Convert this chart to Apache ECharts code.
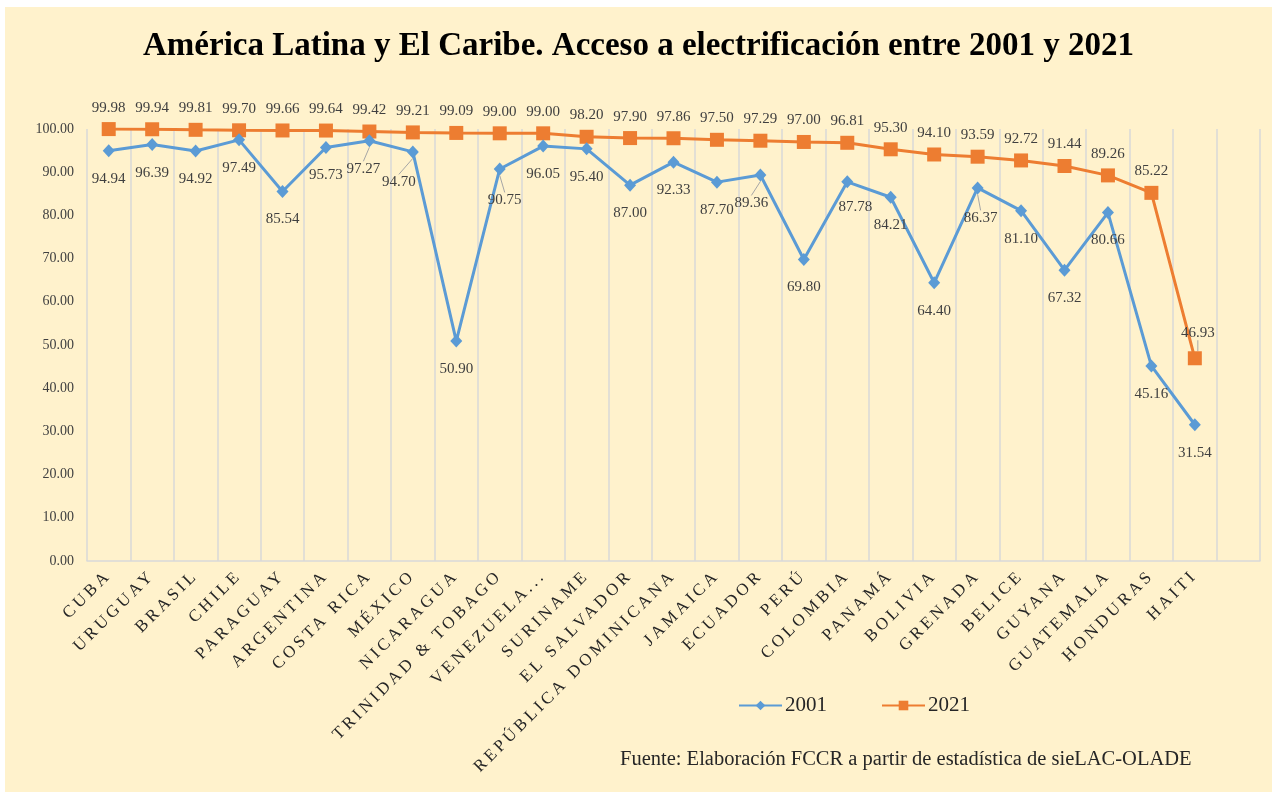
<!DOCTYPE html>
<html lang="es">
<head>
    <meta charset="UTF-8">
    <script src="https://cdn.jsdelivr.net/npm/echarts@6/dist/echarts.min.js"></script>
    <title>Acceso a electrificación</title>
    <style>
        body { margin: 0; background: #ffffff; }
        #main { position: absolute; left: 5px; top: 7px; width: 1267px; height: 785px; }
    </style>
</head>
<body>
<div id="main"></div>

<script type="text/javascript">

    // paises, en el orden del grafico
    var paises = ['CUBA', 'URUGUAY', 'BRASIL', 'CHILE', 'PARAGUAY', 'ARGENTINA', 'COSTA RICA', 'MÉXICO',
        'NICARAGUA', 'TRINIDAD & TOBAGO', 'VENEZUELA...', 'SURINAME', 'EL SALVADOR', 'REPÚBLICA DOMINICANA',
        'JAMAICA', 'ECUADOR', 'PERÚ', 'COLOMBIA', 'PANAMÁ', 'BOLIVIA', 'GRENADA', 'BELICE', 'GUYANA',
        'GUATEMALA', 'HONDURAS', 'HAITI'];

    var acceso2001 = [94.94, 96.39, 94.92, 97.49, 85.54, 95.73, 97.27, 94.70, 50.90, 90.75, 96.05, 95.40,
        87.00, 92.33, 87.70, 89.36, 69.80, 87.78, 84.21, 64.40, 86.37, 81.10, 67.32, 80.66, 45.16, 31.54];

    var acceso2021 = [99.98, 99.94, 99.81, 99.70, 99.66, 99.64, 99.42, 99.21, 99.09, 99.00, 99.00, 98.20,
        97.90, 97.86, 97.50, 97.29, 97.00, 96.81, 95.30, 94.10, 93.59, 92.72, 91.44, 89.26, 85.22, 46.93];

    // desplazamientos de etiquetas (como en el original), con linea guia
    var ajuste2001 = { 6: [-6, 0], 7: [-14, 2], 9: [5, 3], 15: [-9, 0], 17: [8, -3], 20: [3, 2] };
    var ajuste2021 = { 25: [3, -4] };
    var conGuia = [6, 7, 9, 15, 20];

    var fuente = 'Liberation Serif';
    var azul = '#5b9bd5';
    var naranja = '#ed7d31';

    // las etiquetas de paises van espaciadas en el original
    var fillTextOrig = CanvasRenderingContext2D.prototype.fillText;
    CanvasRenderingContext2D.prototype.fillText = function (t, x, y, w) {
        if (paises.indexOf(t) >= 0 && 'letterSpacing' in this) {
            var f = this.font;
            this.save();
            this.letterSpacing = '3.4px';
            this.font = f;
            fillTextOrig.apply(this, arguments);
            this.restore();
            this.letterSpacing = '0px';
            this.font = '10px sans-serif';
            this.font = f;
            return;
        }
        return fillTextOrig.apply(this, arguments);
    };

    var myChart = echarts.init(document.getElementById('main'));

    var datos2001 = acceso2001.map(function (v, i) {
        var item = { value: v };
        if (conGuia.indexOf(i) >= 0) {
            item.labelLine = { show: true };
        }
        return item;
    });

    var datos2021 = acceso2021.map(function (v, i) {
        var item = { value: v };
        if (ajuste2021[i]) {
            item.labelLine = { show: true };
        }
        return item;
    });

    function mover(tabla) {
        return function (p) {
            var d = tabla[p.dataIndex];
            return d ? { dx: d[0], dy: d[1] } : {};
        };
    }

    var option = {
        backgroundColor: '#fff2cc',
        animation: false,
        title: {
            text: 'América Latina y El Caribe. Acceso a electrificación entre 2001 y 2021',
            left: 'center',
            top: 23,
            padding: 0,
            textStyle: {
                fontFamily: fuente,
                fontWeight: 'bold',
                fontSize: 33,
                color: '#000000'
            }
        },
        legend: {
            left: 733,
            top: 688,
            padding: 0,
            itemWidth: 43,
            itemHeight: 12,
            itemGap: 54,
            textStyle: { fontFamily: fuente, fontSize: 21, color: '#262626', padding: [0, 0, 0, -2] },
            data: ['2001', '2021']
        },
        grid: {
            left: 82,
            top: 122,
            width: 1173,
            bottom: 231,
            containLabel: false
        },
        xAxis: {
            type: 'category',
            data: paises.concat(['']),
            boundaryGap: true,
            axisLine: { show: true, lineStyle: { color: '#d9d9d9', width: 1.5 } },
            axisTick: { show: false },
            splitLine: { show: true, interval: 0, lineStyle: { color: '#d9d9d9', width: 1.5 } },
            axisLabel: {
                interval: 0,
                rotate: 45,
                margin: 12,
                fontFamily: fuente,
                fontSize: 17,
                color: '#262626'
            }
        },
        yAxis: {
            type: 'value',
            min: 0,
            max: 100,
            interval: 10,
            axisLine: { show: false },
            axisTick: { show: false },
            splitLine: { show: false },
            axisLabel: {
                margin: 13,
                fontFamily: fuente,
                fontSize: 14,
                color: '#404040',
                formatter: function (v) { return v.toFixed(2); }
            }
        },
        graphic: [{
            type: 'text',
            left: 615,
            top: 742,
            style: {
                text: 'Fuente: Elaboración FCCR a partir de estadística de sieLAC-OLADE',
                font: '20.5px "Liberation Serif"',
                fill: '#262626'
            }
        }],
        series: [
            {
                name: '2001',
                type: 'line',
                data: datos2001,
                symbol: 'diamond',
                symbolSize: [12, 13],
                lineStyle: { color: azul, width: 3 },
                itemStyle: { color: azul },
                label: {
                    show: true,
                    position: 'bottom',
                    distance: 14,
                    fontFamily: fuente,
                    fontSize: 15,
                    color: '#404040',
                    formatter: function (p) { return p.value.toFixed(2); }
                },
                labelLine: { show: false, lineStyle: { color: '#a6a6a6', width: 1 } },
                labelLayout: mover(ajuste2001),
                z: 3
            },
            {
                name: '2021',
                type: 'line',
                data: datos2021,
                symbol: 'rect',
                symbolSize: 14,
                lineStyle: { color: naranja, width: 3 },
                itemStyle: { color: naranja },
                label: {
                    show: true,
                    position: 'top',
                    distance: 7,
                    fontFamily: fuente,
                    fontSize: 15,
                    color: '#404040',
                    formatter: function (p) { return p.value.toFixed(2); }
                },
                labelLine: { show: false, lineStyle: { color: '#a6a6a6', width: 1 } },
                labelLayout: mover(ajuste2021),
                z: 2
            }
        ]
    };

    myChart.setOption(option);
</script>
</body>
</html>
